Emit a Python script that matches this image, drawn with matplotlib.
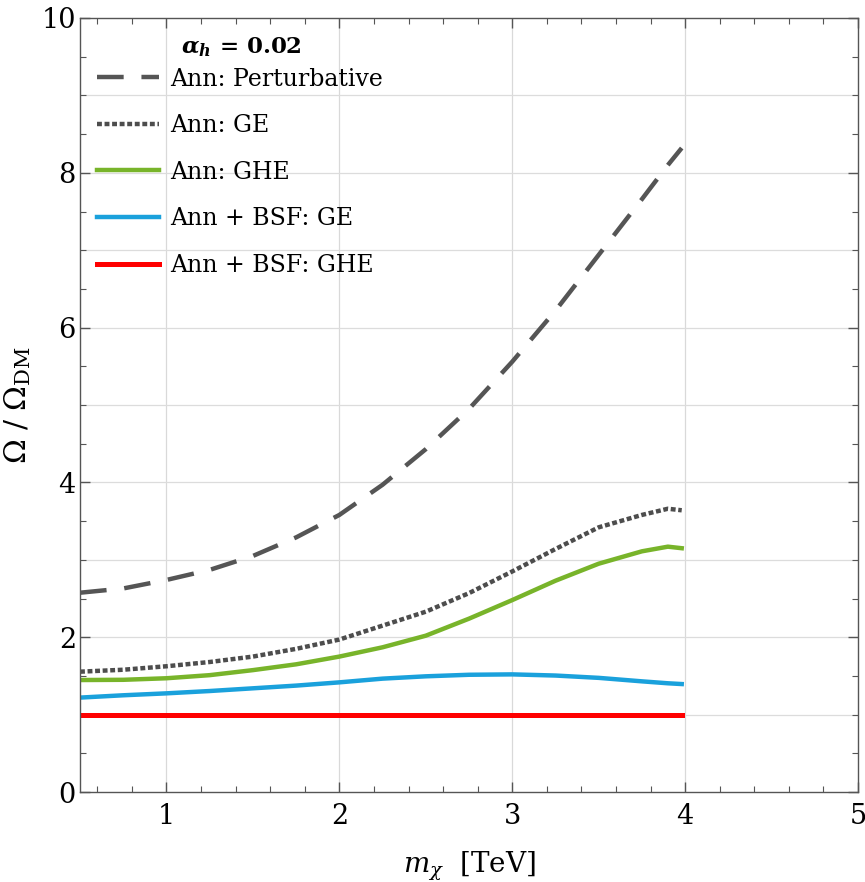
import numpy as np
import matplotlib
matplotlib.use("Agg")
import matplotlib.pyplot as plt
from matplotlib.ticker import MultipleLocator

# values
m_chi = [0.5, 0.75, 1.0, 1.25, 1.5, 1.75, 2.0, 2.25, 2.5, 2.75,
         3.0, 3.25, 3.5, 3.75, 3.9, 3.98]

ann_pert = [2.575, 2.63, 2.74, 2.87, 3.05, 3.29, 3.58, 3.97, 4.43, 4.95,
            5.56, 6.22, 6.94, 7.66, 8.10, 8.32]
ann_ge = [1.555, 1.58, 1.625, 1.68, 1.75, 1.85, 1.97, 2.15, 2.33, 2.57,
          2.85, 3.14, 3.42, 3.58, 3.66, 3.64]
ann_ghe = [1.447, 1.45, 1.47, 1.51, 1.575, 1.65, 1.75, 1.87, 2.02, 2.24,
           2.48, 2.73, 2.95, 3.11, 3.17, 3.15]
bsf_ge = [1.22, 1.25, 1.275, 1.305, 1.34, 1.375, 1.417, 1.465, 1.495, 1.515,
          1.52, 1.505, 1.475, 1.43, 1.405, 1.395]
bsf_ghe = [1.0] * len(m_chi)

plt.rcParams['font.family'] = ['DejaVu Serif']
plt.rcParams['mathtext.fontset'] = 'dejavuserif'

fig = plt.figure(figsize=(8.65, 8.82), dpi=100)
ax = fig.add_axes([0.0925, 0.102, 0.8995, 0.8776])

lw = 3.2
ax.plot(m_chi, ann_pert, color='#555555', lw=lw, dashes=(6.0, 4.0),
        label='Ann: Perturbative')
ax.plot(m_chi, ann_ge, color='#4d4d4d', lw=lw, dashes=(1.1, 0.6),
        label='Ann: GE')
ax.plot(m_chi, ann_ghe, color='#78b42a', lw=lw, label='Ann: GHE')
ax.plot(m_chi, bsf_ge, color='#1aa1dc', lw=lw, label='Ann + BSF: GE')
ax.plot(m_chi, bsf_ghe, color='#ff0000', lw=lw + 0.4, label='Ann + BSF: GHE')

ax.set_xlim(0.5, 5)
ax.set_ylim(0, 10)
ax.xaxis.set_major_locator(MultipleLocator(1))
ax.xaxis.set_minor_locator(MultipleLocator(0.2))
ax.yaxis.set_major_locator(MultipleLocator(2))
ax.yaxis.set_minor_locator(MultipleLocator(0.5))

# grid: verticals at majors, horizontals every 1
for xv in [1, 2, 3, 4]:
    ax.axvline(xv, color='#d9d9d9', lw=0.9, zorder=0)
for yv in range(1, 10):
    ax.axhline(yv, color='#dcdcdc', lw=0.9, zorder=0)

ax.tick_params(which='both', direction='in', top=True, right=True,
               color='#555555', labelsize=19.5)
ax.tick_params(axis='x', which='major', pad=8)
ax.tick_params(axis='y', which='major', pad=3)
ax.tick_params(which='major', length=7, width=1)
ax.tick_params(which='minor', length=4, width=0.8)
for s in ax.spines.values():
    s.set_color('#555555')
    s.set_linewidth(1.0)

ax.set_xlabel(r'$m_\chi$  [TeV]', fontsize=20, labelpad=14)
ax.set_ylabel(r'$\Omega\ /\ \Omega_{\mathrm{DM}}$', fontsize=21.5, labelpad=6)

leg = ax.legend(loc='upper left', bbox_to_anchor=(0.022, 0.936),
                frameon=False, fontsize=17,
                handlelength=2.6, handletextpad=0.5, labelspacing=1.0,
                borderpad=0, borderaxespad=0)

ax.text(0.208, 0.962,
        r'$\mathbfit{\alpha}_{\mathbfit{h}}\,\mathbf{=}\,\mathbf{0.02}$',
        transform=ax.transAxes, ha='center', va='center', fontsize=16.5)

fig.savefig('out.png', dpi=100)
